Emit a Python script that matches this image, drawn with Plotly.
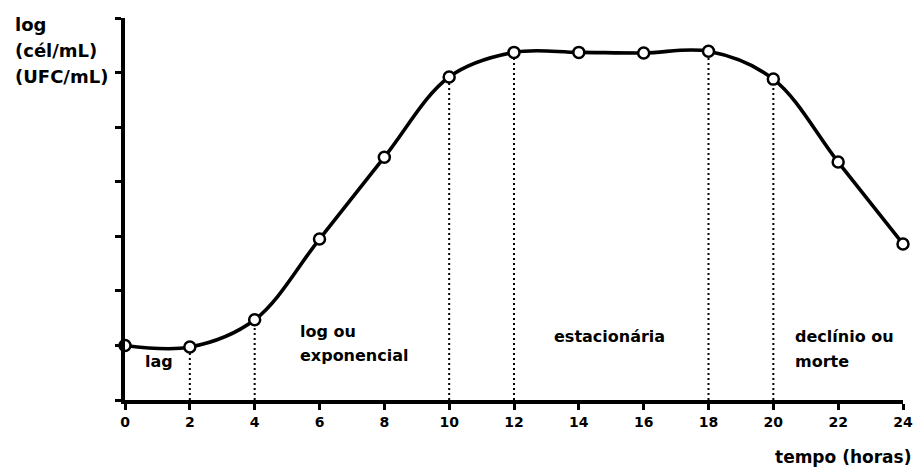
import plotly.graph_objects as go

# Bacterial growth curve: log of cell count vs time
hours = [0, 2, 4, 6, 8, 10, 12, 14, 16, 18, 20, 22, 24]
log_count = [1.0, 0.97, 1.47, 2.95, 4.45, 5.92, 6.37, 6.37, 6.36, 6.39, 5.88, 4.36, 2.86]

# Hours where a growth phase starts or ends (dotted drop lines)
phase_limits = [2, 4, 10, 12, 18, 20]

x_ticks = [0, 2, 4, 6, 8, 10, 12, 14, 16, 18, 20, 22, 24]
y_ticks = [0, 1, 2, 3, 4, 5, 6, 7]

# Phase labels: (text, hour, log value)
phase_labels = [
    ("lag", 0.55, 0.70),
    ("log ou", 5.34, 1.25),
    ("exponencial", 5.34, 0.82),
    ("estacionária", 13.17, 1.17),
    ("declínio ou", 20.6, 1.17),
    ("morte", 20.6, 0.71),
]

# y axis title, one entry per line
y_title_lines = ["log", "(cél/mL)", "(UFC/mL)"]

FONT = "DejaVu Sans"

fig = go.Figure()

# dotted drop lines from the curve to the time axis
for h in phase_limits:
    v = log_count[hours.index(h)]
    fig.add_trace(go.Scatter(
        x=[h, h], y=[0, v],
        mode="lines",
        line=dict(color="black", width=2, dash="2px,3px"),
        hoverinfo="skip",
        showlegend=False,
        cliponaxis=False,
    ))

# growth curve
fig.add_trace(go.Scatter(
    x=hours, y=log_count,
    mode="lines+markers",
    line=dict(color="black", width=3.6, shape="spline", smoothing=1.0),
    marker=dict(symbol="circle", size=11, color="white",
                line=dict(color="black", width=2.5)),
    showlegend=False,
    cliponaxis=False,
))

for text, hx, hy in phase_labels:
    fig.add_annotation(
        x=hx, y=hy, xref="x", yref="y",
        text=f"<b>{text}</b>", showarrow=False,
        xanchor="left", yanchor="middle",
        font=dict(family=FONT, size=16, color="black"),
    )

# y axis title in the top-left corner
for i, line in enumerate(y_title_lines):
    fig.add_annotation(
        x=-0.144, y=0.982 - i * 0.068, xref="paper", yref="paper",
        text=f"<b>{line}</b>",
        showarrow=False, xanchor="left", yanchor="middle",
        font=dict(family=FONT, size=18, color="black"),
    )

# x axis title under the right end of the axis
fig.add_annotation(
    x=1.013, y=-0.149, xref="paper", yref="paper",
    text="<b>tempo (horas)</b>",
    showarrow=False, xanchor="right", yanchor="middle",
    font=dict(family=FONT, size=17, color="black"),
)

fig.update_xaxes(
    range=[0, 24], tickvals=x_ticks,
    ticktext=[f"<b>{t}</b>" for t in x_ticks],
    showgrid=False, zeroline=False, automargin=False,
    showline=True, linecolor="black", linewidth=3.5,
    ticks="outside", ticklen=6, tickwidth=2.5, tickcolor="black",
    tickfont=dict(family=FONT, size=14, color="black"),
)
fig.update_yaxes(
    range=[0, 7], tickvals=y_ticks, showticklabels=False,
    showgrid=False, zeroline=False, automargin=False,
    showline=True, linecolor="black", linewidth=3.5,
    ticks="outside", ticklen=6, tickwidth=2.5, tickcolor="black",
)

fig.update_layout(
    width=915, height=473,
    margin=dict(l=125, r=12, t=18, b=73),
    paper_bgcolor="white", plot_bgcolor="white",
    font=dict(family=FONT, color="black"),
)

fig.write_html("out.html")
